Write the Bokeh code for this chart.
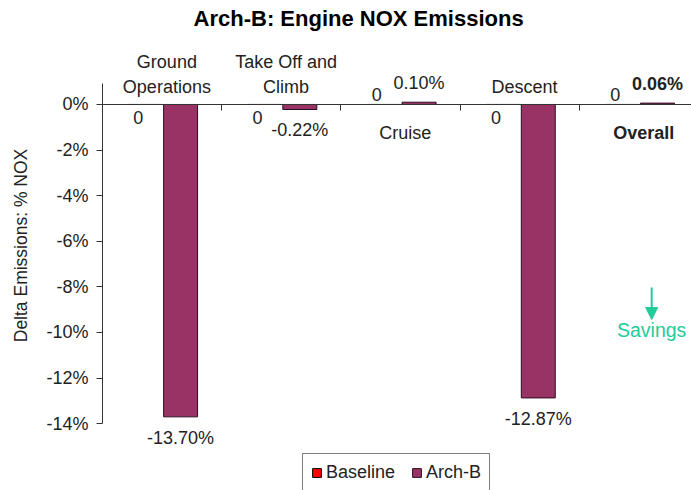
import numpy as np
from bokeh.plotting import figure
from bokeh.core.properties import value
from bokeh.models import (Range1d, FixedTicker, PrintfTickFormatter, CustomJSTickFormatter,
                          Legend, LegendItem, Label, Arrow, NormalHead, ColumnDataSource)
from bokeh.embed import file_html
from bokeh.resources import INLINE

# ---- data ----
categories = ["Ground\nOperations", "Take Off and\nClimb", "Cruise", "Descent", "Overall"]
baseline = [0, 0, 0, 0, 0]
arch_b = [-13.70, -0.22, 0.10, -12.87, 0.06]
y_ticks = [0, -2, -4, -6, -8, -10, -12, -14]
title_text = "Arch-B: Engine NOX Emissions"
y_label = "Delta Emissions: % NOX"
series_names = ["Baseline", "Arch-B"]

FONT = "Liberation Sans"
TXT = "#222222"
PLUM = "#993366"
RED = "#FF0000"
TEAL = "#1FCC9A"

idx = np.arange(len(categories))
n = len(categories)

p = figure(width=691, height=490, output_backend="svg", toolbar_location=None,
           x_range=Range1d(-0.5, n - 0.56), y_range=Range1d(-16.93, 4.56),
           min_border_left=102, min_border_right=0, min_border_top=0, min_border_bottom=0)
p.outline_line_color = None
p.xgrid.visible = False
p.ygrid.visible = False
p.background_fill_color = "white"

# bars
base_src = ColumnDataSource(dict(x=idx - 0.14, top=baseline))
arch_src = ColumnDataSource(dict(x=idx + 0.155, top=arch_b))
r_base = p.vbar(x="x", top="top", bottom=0, width=0.285, source=base_src,
                fill_color=RED, line_color="black", line_width=1)
r_arch = p.vbar(x="x", top="top", bottom=0, width=0.285, source=arch_src,
                fill_color=PLUM, line_color="#2a1020", line_width=1)

# axes
yax = p.yaxis[0]
yax.ticker = FixedTicker(ticks=y_ticks)
yax.formatter = PrintfTickFormatter(format="%d%%")
yax.bounds = (min(y_ticks), 0.92)
yax.major_tick_out = 6
yax.major_tick_in = 0
yax.minor_tick_line_color = None
yax.axis_line_color = "#333333"
yax.major_tick_line_color = "#333333"
yax.major_label_text_font = FONT
yax.major_label_text_font_size = "18px"
yax.major_label_text_color = TXT
yax.major_label_standoff = 8
yax.axis_label = y_label
yax.axis_label_text_font = FONT
yax.axis_label_text_font_size = "17.5px"
yax.axis_label_text_font_style = "normal"
yax.axis_label_text_color = TXT
yax.axis_label_standoff = 12

xax = p.xaxis[0]
xax.fixed_location = 0
xax.ticker = FixedTicker(ticks=list(idx + 0.5))
xax.formatter = CustomJSTickFormatter(code="return ''")
xax.major_tick_out = 6
xax.major_tick_in = 0
xax.minor_tick_line_color = None
xax.axis_line_color = "#333333"
xax.major_tick_line_color = "#333333"

# category labels (opposite side of the bar)
cx, cy, ct, coff, cstyle = [], [], [], [], []
for i, (name, v) in enumerate(zip(categories, arch_b)):
    lines = name.split("\n")
    style = "bold" if name == "Overall" else "normal"
    for k, line in enumerate(lines):
        if v < 0:
            off = -17 - 25 * (len(lines) - 1 - k)
        else:
            off = 29 + 25 * k
        cx.append(i + 0.04); cy.append(0); ct.append(line); coff.append(off); cstyle.append(style)
p.text(x="x", y="y", text="t", y_offset="off", text_font_style="st",
       source=ColumnDataSource(dict(x=cx, y=cy, t=ct, off=coff, st=cstyle)),
       text_font=value(FONT), text_font_size=value("18px"), text_color=TXT,
       text_align="center", text_baseline="middle")

# value labels Arch-B
vt = [f"{v:.2f}%" for v in arch_b]
voff = [21 if v < 0 else -19 for v in arch_b]
vst = ["bold" if c == "Overall" else "normal" for c in categories]
p.text(x="x", y="y", text="t", y_offset="off", text_font_style="st",
       source=ColumnDataSource(dict(x=idx + 0.155, y=arch_b, t=vt, off=voff, st=vst)),
       text_font=value(FONT), text_font_size=value("18px"), text_color=TXT,
       text_align="center", text_baseline="middle")

# value labels Baseline
bt = [f"{b:g}" for b in baseline]
boff = [13 if v < 0 else -10 for v in arch_b]
p.text(x="x", y="y", text="t", y_offset="off",
       source=ColumnDataSource(dict(x=idx - 0.2, y=baseline, t=bt, off=boff)),
       text_font=value(FONT), text_font_size=value("18px"), text_color=TXT,
       text_align="center", text_baseline="middle")

# title
p.add_layout(Label(x=1.648, y=3.77, text=title_text, text_font=FONT, text_font_size="22px",
                   text_font_style="bold", text_color="black", text_align="center",
                   text_baseline="middle"))

# savings annotation
p.add_layout(Arrow(end=NormalHead(size=12, fill_color=TEAL, line_color=TEAL),
                   x_start=4.106, y_start=-8.03, x_end=4.106, y_end=-9.43,
                   line_color=TEAL, line_width=2))
p.add_layout(Label(x=4.106, y=-9.91, text="Savings", text_font=FONT, text_font_size="19.5px",
                   text_color=TEAL, text_align="center", text_baseline="middle"))

# legend
legend = Legend(items=[LegendItem(label=series_names[0], renderers=[r_base]),
                       LegendItem(label=series_names[1], renderers=[r_arch])],
                location=(200, -2), orientation="horizontal")
legend.glyph_width = 11
legend.glyph_height = 11
legend.label_standoff = 4
legend.spacing = 16
legend.padding = 8
legend.label_height = 20
legend.label_text_font = FONT
legend.label_text_font_size = "18px"
legend.label_text_color = TXT
legend.border_line_color = "black"
legend.border_line_width = 1
legend.background_fill_color = "white"
legend.background_fill_alpha = 1
legend.margin = 0
p.add_layout(legend)

open("out.html", "w").write(file_html(p, INLINE))
